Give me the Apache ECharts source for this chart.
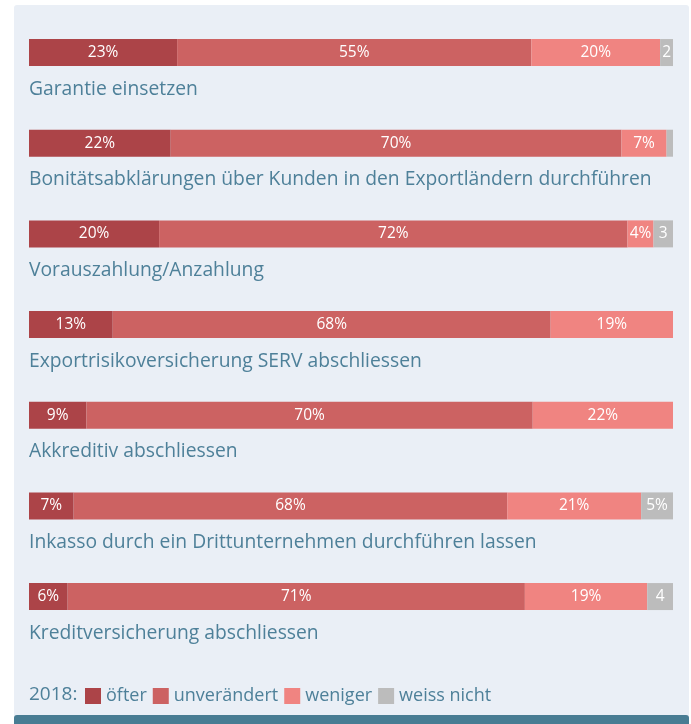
<!DOCTYPE html>
<html><head><meta charset="utf-8">
<script src="https://cdn.jsdelivr.net/npm/echarts@6/dist/echarts.min.js"></script>
<style>html,body{margin:0;padding:0;background:#fff}#c{width:691px;height:724px}</style>
</head><body><div id="c"></div>
<script>
const categories = [
  'Garantie einsetzen',
  'Bonitätsabklärungen über Kunden in den Exportländern durchführen',
  'Vorauszahlung/Anzahlung',
  'Exportrisikoversicherung SERV abschliessen',
  'Akkreditiv abschliessen',
  'Inkasso durch ein Drittunternehmen durchführen lassen',
  'Kreditversicherung abschliessen'
];
const seriesNames = ['öfter', 'unverändert', 'weniger', 'weiss nicht'];
const oefter      = [23, 22, 20, 13, 9, 7, 6];
const unveraendert = [55, 70, 72, 68, 70, 68, 71];
const weniger     = [20, 7, 4, 19, 22, 21, 19];
const weissNicht  = [2, 1, 3, 0, 0, 5, 4];
const legendTitle = '2018:';

const colors = ['#ac4448', '#cc6262', '#f08481', '#bcbcbc'];
const textColor = '#4e8099';
const FONT = '"Open Sans", "Noto Sans", sans-serif';

const raw = [oefter, unveraendert, weniger, weissNicht];
const totals = categories.map((_, i) => raw.reduce((s, a) => s + a[i], 0));

const series = raw.map((arr, si) => ({
  name: seriesNames[si],
  type: 'bar',
  stack: 'all',
  barWidth: 27,
  itemStyle: { color: colors[si] },
  data: arr.map((v, i) => ({ value: v / totals[i] * 100, raw: v })),
  label: {
    show: true,
    position: 'inside',
    color: '#fff',
    fontFamily: FONT,
    fontSize: 15.5,
    formatter: p => {
      const v = p.data.raw;
      if (v <= 1) return '';
      if (si === 3 && v < 5) return String(v);
      return v + '%';
    }
  },
  emphasis: { disabled: true }
}));

const chart = echarts.init(document.getElementById('c'), null, { renderer: 'canvas' });
chart.setOption({
  backgroundColor: '#ffffff',
  animation: false,
  graphic: [
    { type: 'rect', z: -10, shape: { x: 14, y: 5, width: 675, height: 715, r: 3 }, style: { fill: '#eaeff6' }, silent: true },
    { type: 'rect', z: -9, shape: { x: 14, y: 715, width: 675, height: 12, r: [3, 3, 0, 0] }, style: { fill: '#487c93' }, silent: true }
  ],
  title: {
    text: legendTitle,
    left: 24,
    top: 680,
    textStyle: { color: textColor, fontFamily: FONT, fontSize: 19, fontWeight: 'normal' }
  },
  legend: {
    left: 80,
    top: 682,
    icon: 'rect',
    itemWidth: 16,
    itemHeight: 16,
    itemGap: 6,
    selectedMode: false,
    textStyle: { color: textColor, fontFamily: FONT, fontSize: 18 },
    data: seriesNames
  },
  grid: { left: 29, right: 18, top: 7.2, height: 634.7, containLabel: false },
  xAxis: { type: 'value', min: 0, max: 100, show: false },
  yAxis: {
    type: 'category',
    inverse: true,
    data: categories,
    axisLine: { show: false },
    axisTick: { show: false },
    axisLabel: {
      inside: true,
      margin: 0,
      verticalAlign: 'top',
      padding: [27, 0, 0, 0],
      color: textColor,
      fontFamily: FONT,
      fontSize: 19.3
    }
  },
  series
});
</script></body></html>
